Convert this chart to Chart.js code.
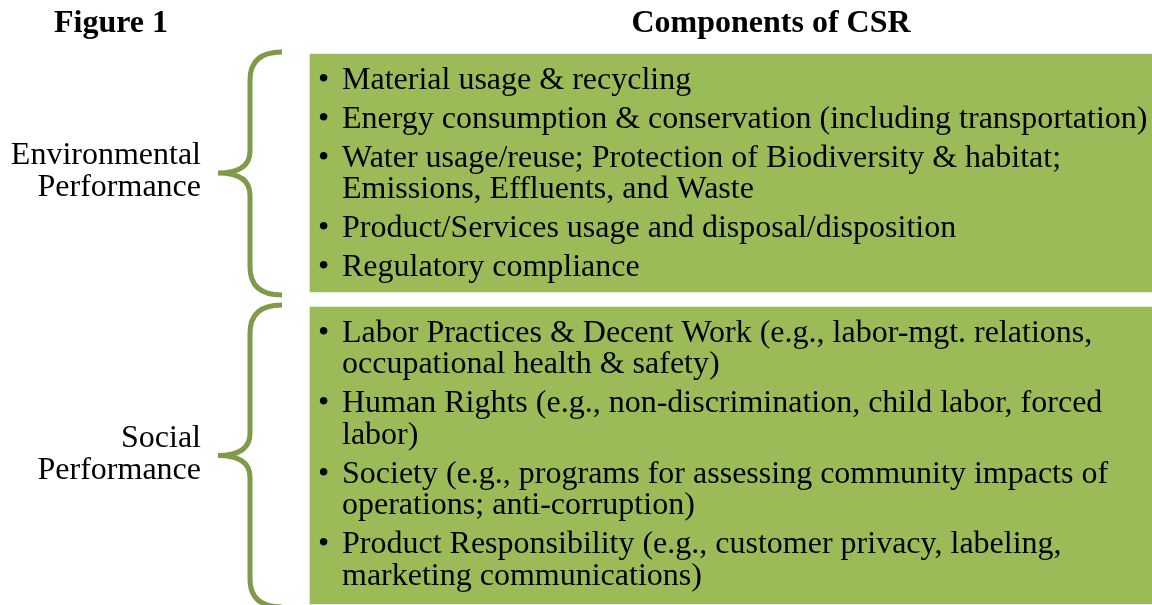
<!DOCTYPE html>
<html>
<head>
<meta charset="utf-8">
<script src="https://cdn.jsdelivr.net/npm/chart.js@4/dist/chart.umd.min.js"></script>
<style>
  html, body { margin: 0; padding: 0; background: #fff; }
  #wrap { width: 1152px; height: 605px; }
</style>
</head>
<body>
<div id="wrap"><canvas id="csrChart" width="1152" height="605"></canvas></div>
<script>
// Groups of the figure and what sits in each box
const groups = ['Environmental Performance', 'Social Performance'];
const groupLabels = [['Environmental', 'Performance'], ['Social', 'Performance']];

const envItems = [
    ['Material usage & recycling'],
    ['Energy consumption & conservation (including transportation)'],
    ['Water usage/reuse; Protection of Biodiversity & habitat;', 'Emissions, Effluents, and Waste'],
    ['Product/Services usage and disposal/disposition'],
    ['Regulatory compliance']
];
const socialItems = [
    ['Labor Practices & Decent Work (e.g., labor-mgt. relations,', 'occupational health & safety)'],
    ['Human Rights (e.g., non-discrimination, child labor, forced', 'labor)'],
    ['Society (e.g., programs for assessing community impacts of', 'operations; anti-corruption)'],
    ['Product Responsibility (e.g., customer privacy, labeling,', 'marketing communications)']
];

// box extents in figure units (x across, y down)
const boxLeft = [310, 310];
const boxRight = [1152, 1152];
const boxTop = [54, 307];
const boxBottom = [292, 604];

const GREEN = '#9BBB59';
const BRACE = '#7F9B4A';
const SERIF = '"Liberation Serif", "Times New Roman", serif';

const itemsByGroup = [envItems, socialItems];

// draws titles, braces, side labels and bullet text on top of the boxes
const diagramPlugin = {
    id: 'diagram',
    afterDatasetsDraw(chart) {
        const ctx = chart.ctx;
        const xs = chart.scales.x;
        const ys = chart.scales.y;
        ctx.save();

        // headings
        ctx.fillStyle = '#000';
        ctx.font = 'bold 32px ' + SERIF;
        ctx.textAlign = 'center';
        ctx.textBaseline = 'alphabetic';
        ctx.fillText('Figure 1', 111, 32);
        ctx.fillText('Components of CSR', 771, 32);

        groups.forEach((g, i) => {
            const top = ys.getPixelForValue(boxTop[i]);
            const bottom = ys.getPixelForValue(boxBottom[i]);
            const left = xs.getPixelForValue(boxLeft[i]);
            const mid = (top + bottom) / 2;

            // curly brace
            const bx = left - 60, tipX = left - 92, endX = left - 28;
            const t = top - 2, b = bottom + 3, r = 28;
            ctx.strokeStyle = BRACE;
            ctx.lineWidth = 5;
            ctx.lineCap = 'butt';
            ctx.beginPath();
            ctx.moveTo(endX, t);
            ctx.quadraticCurveTo(bx, t, bx, t + r);
            ctx.lineTo(bx, mid - 22);
            ctx.quadraticCurveTo(bx, mid, tipX, mid);
            ctx.quadraticCurveTo(bx, mid, bx, mid + 22);
            ctx.lineTo(bx, b - r);
            ctx.quadraticCurveTo(bx, b, endX, b);
            ctx.stroke();

            // group label left of the brace
            ctx.fillStyle = '#000';
            ctx.font = '32px ' + SERIF;
            ctx.textAlign = 'right';
            ctx.fillText(groupLabels[i][0], 201, mid - 9);
            ctx.fillText(groupLabels[i][1], 201, mid + 23);

            // bullet items
            ctx.textAlign = 'left';
            let y = top + 34.5;
            itemsByGroup[i].forEach(lines => {
                ctx.fillText('\u2022', left + 8, y);
                lines.forEach(ln => {
                    ctx.fillText(ln, left + 32, y);
                    y += 31.5;
                });
                y += 7.5;
            });
        });
        ctx.restore();
    }
};

new Chart(document.getElementById('csrChart'), {
    type: 'bar',
    data: {
        datasets: groups.map((g, i) => ({
            label: g,
            data: [{ x: [boxLeft[i], boxRight[i]], y: (boxTop[i] + boxBottom[i]) / 2 }],
            backgroundColor: GREEN,
            borderWidth: 0,
            borderSkipped: false,
            barThickness: boxBottom[i] - boxTop[i],
            grouped: false
        }))
    },
    options: {
        indexAxis: 'y',
        responsive: false,
        animation: false,
        layout: { padding: 0 },
        plugins: { legend: { display: false }, tooltip: { enabled: false }, title: { display: false } },
        scales: {
            x: { type: 'linear', min: 0, max: 1152, display: false, offset: false },
            y: { type: 'linear', min: 0, max: 605, reverse: true, display: false, offset: false }
        }
    },
    plugins: [diagramPlugin]
});
</script>
</body>
</html>
